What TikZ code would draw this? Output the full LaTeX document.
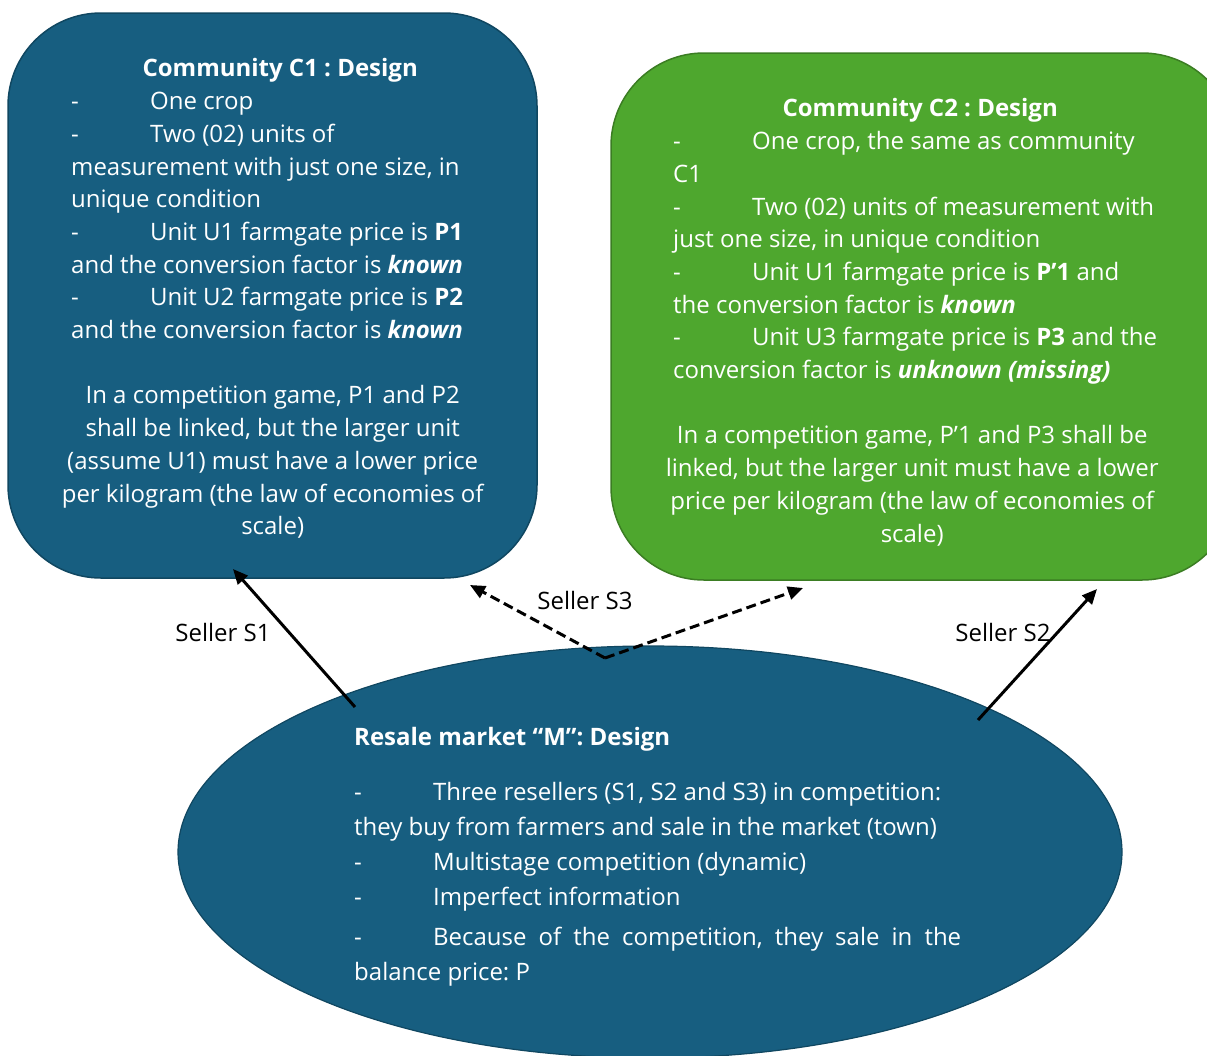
\documentclass[tikz,border=0pt]{standalone}
\usepackage{fontspec}
\setmainfont{Open Sans}
\usetikzlibrary{arrows.meta,shapes.geometric}
\frenchspacing
\definecolor{boxblue}{HTML}{175E80}
\definecolor{boxblueline}{HTML}{104761}
\definecolor{boxgreen}{HTML}{4EA72E}
\definecolor{boxgreenline}{HTML}{3B7D23}
\newcommand{\dsh}{\makebox[79pt][l]{-}}
\newcommand{\bi}[1]{\textbf{\textit{#1}}}
\tikzset{
  roundbox/.style={rectangle, rounded corners=93pt, line width=1.5pt, inner sep=0pt},
  bodytext/.style={inner sep=0pt, anchor=north west, align=left, text=white,
    font=\fontsize{24}{32.7}\selectfont},
  marktext/.style={inner sep=0pt, anchor=north west, align=left, text=white,
    font=\fontsize{24}{35}\selectfont},
  lbl/.style={inner sep=0pt, text=black, font=\fontsize{24}{28}\selectfont},
  arr/.style={line width=3pt, -{Triangle[length=15pt,width=13pt]}},
  darr/.style={line width=3pt, dash pattern=on 10pt off 5pt, -{Triangle[length=15pt,width=13pt]}}
}
\begin{document}
\begin{tikzpicture}[x=1pt,y=-1pt]
\useasboundingbox (0,0) rectangle (1207,1055);
% boxes
\node[roundbox, draw=boxblueline, fill=boxblue, minimum width=529pt, minimum height=565pt] (c1) at (272.5,295.5) {};
\node[roundbox, draw=boxgreenline, fill=boxgreen, minimum width=624pt, minimum height=527pt] (c2) at (923,316.5) {};
\node[ellipse, draw=boxblueline, line width=1.2pt, fill=boxblue, minimum width=944pt, minimum height=412pt, inner sep=0pt] (m) at (650,852) {};
% texts
\node[bodytext] (t1) at (71,58.5) {%
\makebox[403pt][c]{\hspace{15pt}\bfseries Community C1 : Design}\\
\dsh One crop\\
\dsh Two (02) units of\\
measurement with just one size, in\\
unique condition\\
\dsh Unit U1 farmgate price is \textbf{P1}\\
and the conversion factor is \bi{known}\\
\dsh Unit U2 farmgate price is \textbf{P2}\\
and the conversion factor is \bi{known}\\[32.7pt]
\makebox[403pt][c]{In a competition game, P1 and P2}\\
\makebox[403pt][c]{shall be linked, but the larger unit}\\
\makebox[403pt][c]{(assume U1) must have a lower price}\\
\makebox[403pt][c]{per kilogram (the law of economies of}\\
\makebox[403pt][c]{scale)}};
\node[bodytext] (t2) at (673,98.5) {%
\makebox[478pt][c]{\hspace{16pt}\bfseries Community C2 : Design}\\
\dsh One crop, the same as community\\
C1\\
\dsh Two (02) units of measurement with\\
just one size, in unique condition\\
\dsh Unit U1 farmgate price is \textbf{P’1} and\\
the conversion factor is \bi{known}\\
\dsh Unit U3 farmgate price is \textbf{P3} and the\\
conversion factor is \bi{unknown (missing)}\\[32.7pt]
\makebox[478pt][c]{In a competition game, P’1 and P3 shall be}\\
\makebox[478pt][c]{linked, but the larger unit must have a lower}\\
\makebox[478pt][c]{price per kilogram (the law of economies of}\\
\makebox[478pt][c]{scale)}};
\node[marktext] (tm) at (354,727) {%
\textbf{Resale market “M”: Design}\\[20pt]
\dsh Three resellers (S1, S2 and S3) in competition:\\
they buy from farmers and sale in the market (town)\\
\dsh Multistage competition (dynamic)\\
\dsh Imperfect information\\[5pt]
\dsh\makebox[528pt][s]{Because of the competition, they sale in the}\\
balance price: P};
% connector end points
\coordinate (s1a) at (355,707);
\coordinate (s1b) at (233,569);
\coordinate (s2a) at (978,720);
\coordinate (s2b) at (1097,589);
\coordinate (s3a) at (605,658);
\coordinate (s3l) at (470,585);
\coordinate (s3r) at (803,588);
\draw[arr] (s1a) -- (s1b);
\draw[arr] (s2a) -- (s2b);
\draw[darr] (s3a) -- (s3l);
\draw[darr] (s3a) -- (s3r);
% labels
\node[lbl] (l1) at (223,632) {Seller S1};
\node[lbl] (l3) at (585,600) {Seller S3};
\node[lbl] (l2) at (1003,632) {Seller S2};
\end{tikzpicture}
\end{document}
